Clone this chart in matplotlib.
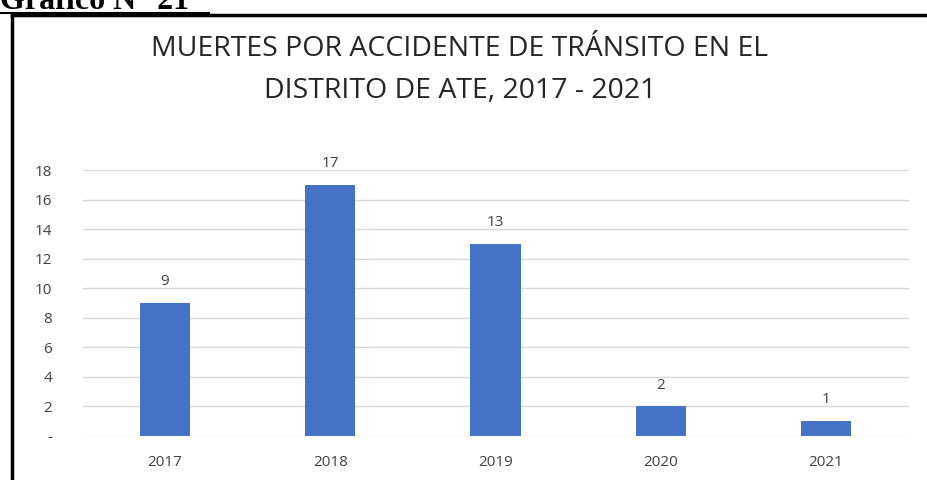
import matplotlib
matplotlib.use("Agg")
import matplotlib.pyplot as plt
from matplotlib.lines import Line2D

years = ["2017", "2018", "2019", "2020", "2021"]
deaths = [9, 17, 13, 2, 1]
yticks = [0, 2, 4, 6, 8, 10, 12, 14, 16, 18]
ytick_labels = ["-", "2", "4", "6", "8", "10", "12", "14", "16", "18"]

W, H = 927, 480
fig = plt.figure(figsize=(W / 100, H / 100), dpi=100)
fig.patch.set_facecolor("white")

# Header text (cut at top, as in the reference)
fig.text(0 / W, 1 - 9 / H, "Gráfico N° 21", fontsize=23, fontweight="bold",
         family="Liberation Serif", ha="left", va="baseline", color="black")
fig.add_artist(Line2D([0, 209 / W], [1 - 12.5 / H, 1 - 12.5 / H],
                      transform=fig.transFigure, color="black", lw=1.5))

# Frame
fig.add_artist(Line2D([11.5 / W, 11.5 / W], [0, 1 - 15 / H],
                      transform=fig.transFigure, color="black", lw=2.5))
fig.add_artist(Line2D([11.5 / W, 1], [1 - 15 / H, 1 - 15 / H],
                      transform=fig.transFigure, color="black", lw=2.5))

# Title
fig.text(460 / W, 1 - 49 / H, "MUERTES POR ACCIDENTE DE TRÁNSITO EN EL",
         fontsize=20.5, family="Open Sans", ha="center", va="center", color="#262626")
fig.text(460 / W, 1 - 91 / H, "DISTRITO DE ATE, 2017 - 2021",
         fontsize=20.5, family="Open Sans", ha="center", va="center", color="#262626")

ax = fig.add_axes([82.5 / W, 44 / H, 826 / W, 266 / H])
x = list(range(len(years)))
ax.bar(x, deaths, width=0.305, color="#4472C4", zorder=3)
ax.set_xlim(-0.5, len(years) - 0.5)
ax.set_ylim(0, 18)
ax.set_yticks(yticks)
ax.set_yticklabels(ytick_labels)
ax.set_xticks(x)
ax.set_xticklabels(years)
ax.grid(axis="y", color="#D9D9D9", lw=1, zorder=0)
for s in ax.spines.values():
    s.set_visible(False)
ax.tick_params(axis="both", length=0, colors="#404040", labelsize=11)
ax.tick_params(axis="y", pad=22)
ax.tick_params(axis="x", pad=14)
for lab in ax.get_xticklabels() + ax.get_yticklabels():
    lab.set_family("Open Sans")

for xi, v in zip(x, deaths):
    ax.annotate(str(v), (xi, v), xytext=(0, 10), textcoords="offset points",
                ha="center", va="bottom", fontsize=11, color="#404040",
                family="Open Sans", annotation_clip=False)

fig.savefig("out.png", dpi=100, facecolor="white")
